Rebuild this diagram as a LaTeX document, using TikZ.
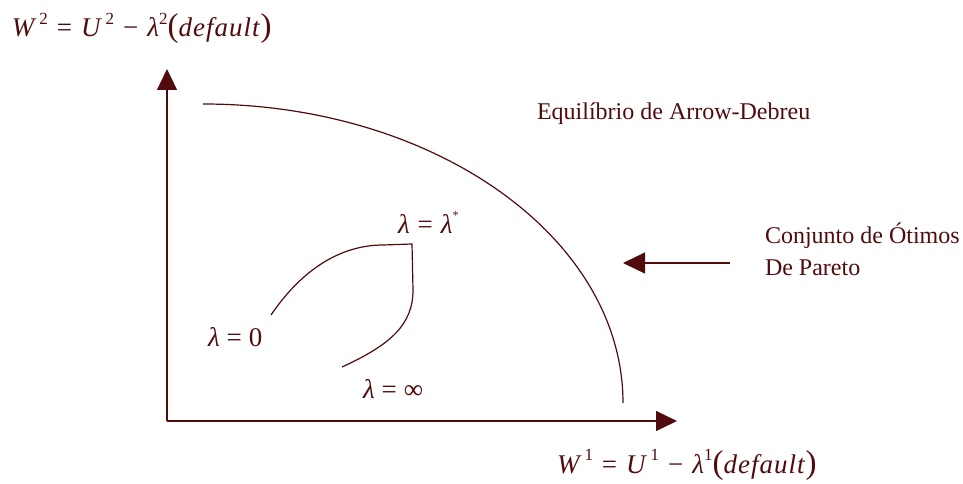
\documentclass[tikz,border=0pt]{standalone}
\usepackage{fontspec}
\setmainfont{Liberation Serif}
\usetikzlibrary{arrows.meta}
\definecolor{maroon}{RGB}{80,12,12}
\newcommand{\supx}[1]{\raisebox{0.45em}{\fontsize{17}{17}\selectfont\upshape #1}}
\newcommand{\bigp}[1]{{\fontsize{33}{33}\selectfont\upshape #1}}
\newcommand{\wlabel}[1]{W\kern5pt\supx{#1}\hspace{9pt}\upshape=\hspace{9pt}\itshape U\kern5pt\supx{#1}\hspace{9pt}\upshape −\hspace{9pt}\itshape λ\supx{#1}\bigp{(}\itshape d\kern1pt e\kern1pt f\kern1pt a\kern1pt u\kern1pt l\kern1pt t\kern1pt\bigp{)}}
\begin{document}
\begin{tikzpicture}[x=1pt,y=-1pt,
  every node/.style={text=maroon, inner sep=0pt, outer sep=0pt},
  txt/.style={font=\fontsize{24}{32}\selectfont, align=left},
  mth/.style={font=\fontsize{27}{30}\selectfont\itshape},
  ln/.style={draw=maroon, line width=1.2pt},
  axis/.style={ln, -{Triangle[length=21pt,width=20pt]}},
  parr/.style={ln, -{Triangle[length=22pt,width=21pt]}}]
\useasboundingbox (0,0) rectangle (963,484);
% axes
\coordinate (o) at (167,421);
\coordinate (ytip) at (167,69);
\coordinate (xtip) at (677,421);
\draw[axis] (o) -- (ytip);
\draw[axis] (o) -- (xtip);
% labels of axes
\node[mth, anchor=base west] (w2) at (12,37) {\wlabel{2}};
\node[mth, anchor=base west] (w1) at (557,473) {\wlabel{1}};
% Pareto frontier
\coordinate (ps) at (203,104);
\coordinate (pe) at (623,403);
\draw[ln] (ps) arc[start angle=-90, end angle=0, x radius=420, y radius=299];
% equilibrium path
\coordinate (l0) at (271,315);
\coordinate (lt) at (383,245);
\coordinate (lc) at (412,244);
\coordinate (lv) at (413,290);
\coordinate (li) at (342,367);
\draw[ln] (l0) .. controls (305,265) and (345,245) .. (lt) -- (lc) -- (lv)
  .. controls (413,325) and (390,345) .. (li);
% lambda labels
\node[mth, anchor=base west] (lstar) at (398,233) {λ\hspace{8pt}\upshape=\hspace{8pt}\itshape λ\raisebox{0.5em}{\fontsize{12}{12}\selectfont\upshape *}};
\node[mth, anchor=base west] (lzero) at (208,346) {λ\hspace{7pt}\upshape=\hspace{7pt}0};
\node[mth, anchor=base west] (linf) at (363,398) {λ\hspace{7pt}\upshape=\hspace{7pt}∞};
% texts
\node[txt, anchor=base west] (eq) at (537,120) {Equilíbrio de Arrow-Debreu};
\node[txt, anchor=base west] (conj) at (765,275) {Conjunto de Ótimos\\De Pareto};
\coordinate (as) at (730,263);
\coordinate (ae) at (623,263);
\draw[parr] (as) -- (ae);
\end{tikzpicture}
\end{document}
